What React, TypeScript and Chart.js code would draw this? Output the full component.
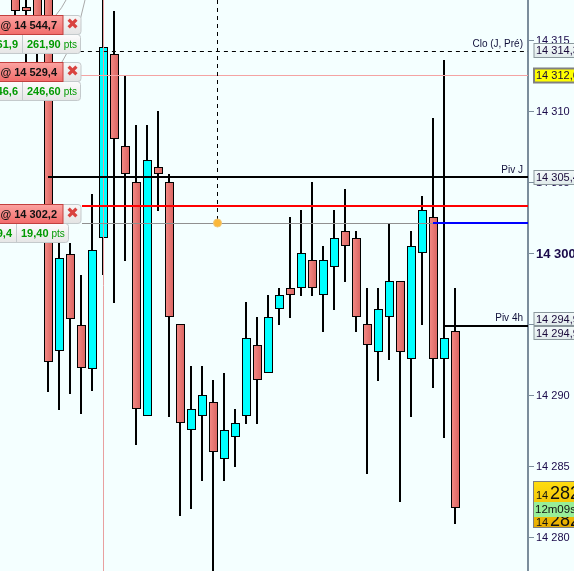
import React, { useEffect, useRef } from "react";
import { Chart, registerables } from "chart.js";

Chart.register(...registerables);

const W = 574;
const H = 571;

// Candle sequence, left to right
const highs = [14319, 14319, 14320, 14322, 14300.99, 14300.77, 14298.52, 14304.23, 14322, 14317.11, 14312.54, 14309.08, 14309.08, 14310.07, 14305.63, 14295.07, 14292.11, 14292.11, 14291.13, 14291.62, 14289.08, 14296.62, 14295.56, 14297.11, 14297.61, 14302.61, 14303.1, 14305.07, 14300.56, 14303.1, 14304.58, 14301.62, 14297.61, 14297.61, 14302.11, 14298.1, 14301.62, 14304.08, 14309.58, 14313.66, 14297.61];
const lows = [14316.1, 14313.1, 14313.1, 14290.28, 14289.01, 14290.14, 14288.73, 14290.35, 14298.52, 14296.55, 14299.51, 14286.55, 14288.59, 14303.03, 14288.52, 14281.55, 14282.04, 14284.01, 14277.4, 14284.01, 14285, 14288.03, 14288.03, 14291.62, 14295, 14295.49, 14297.04, 14297.04, 14294.51, 14296.06, 14298.03, 14294.51, 14284.51, 14291.06, 14292.54, 14282.54, 14288.52, 14295, 14290.56, 14287.04, 14280.99];
const bodyTops = [14318.5, 14317.4, 14319, 14321, 14299.72, 14300, 14295, 14300.28, 14314.58, 14314.08, 14307.61, 14305.07, 14306.62, 14306.13, 14305.07, 14295.07, 14289.08, 14290.07, 14289.58, 14287.61, 14288.1, 14294.08, 14293.59, 14295.56, 14297.11, 14297.61, 14300.07, 14299.58, 14299.58, 14301.13, 14301.62, 14301.13, 14295.07, 14296.13, 14298.1, 14298.1, 14300.56, 14303.1, 14302.61, 14294.08, 14294.58];
const bodyBottoms = [14317.1, 14317.1, 14314.6, 14292.39, 14293.17, 14295.42, 14291.97, 14291.9, 14301.13, 14308.1, 14305.63, 14289.08, 14288.59, 14305.63, 14295.56, 14288.1, 14287.61, 14288.59, 14286.06, 14285.56, 14287.11, 14288.59, 14291.13, 14291.62, 14296.13, 14297.11, 14297.61, 14297.61, 14297.11, 14299.08, 14300.56, 14295.56, 14293.59, 14293.1, 14295.56, 14293.1, 14292.61, 14300.07, 14292.61, 14292.61, 14282.11];
const rising = [0, 0, 0, 0, 1, 0, 0, 1, 1, 0, 0, 0, 1, 0, 0, 0, 1, 1, 0, 1, 1, 1, 0, 1, 1, 0, 1, 0, 1, 1, 0, 0, 0, 1, 1, 0, 1, 1, 0, 1, 0];

// Price levels
const pivJ = 14305.4;
const redLevel = 14303.38;
const entryLevel = 14302.2;
const cloLevel = 14314.3;
const pinkLevel = 14312.6;
const piv4h = 14294.95;

const yMin = 14277.676;
const yMax = 14317.887;
const xMin = -1.3636;
const xMax = 46.6364;

const tickValues = [14280, 14285, 14290, 14295, 14300, 14305, 14310, 14315];

const formatPrice = (v: number) => "14 " + String(Math.round(v) - 14000);

const wicks = highs.map((h, i) => ({ x: i, y: [lows[i], h] }));
const bodies = highs.map((_, i) => ({ x: i, y: [bodyBottoms[i], bodyTops[i]] }));

const hLine = (label: string, y: number, from: number, color: string, width: number, dash: number[] = [], order = 1) => ({
  type: "line" as const,
  label,
  data: [{ x: from, y }, { x: xMax, y }],
  borderColor: color,
  borderWidth: width,
  borderDash: dash,
  pointRadius: 0,
  order,
  borderCapStyle: "butt" as const,
});

function roundRect(c: CanvasRenderingContext2D, x: number, y: number, w: number, h: number, r: number) {
  c.beginPath();
  c.roundRect(x, y, w, h, r);
}

function vGrad(c: CanvasRenderingContext2D, y0: number, y1: number, a: string, b: string) {
  const g = c.createLinearGradient(0, y0, 0, y1);
  g.addColorStop(0, a);
  g.addColorStop(1, b);
  return g;
}

function tradeTag(c: CanvasRenderingContext2D, top: number, main: string, left: string, right: string, sep: number, end: number) {
  // lower row
  roundRect(c, -6, top + 19.5, end + 6.5, 19, 3);
  c.fillStyle = vGrad(c, top + 19, top + 38, "#fdfdfd", "#e6e6e6");
  c.fill();
  c.strokeStyle = "#c4cacc";
  c.lineWidth = 1;
  c.stroke();
  c.beginPath();
  c.moveTo(sep + 0.5, top + 20);
  c.lineTo(sep + 0.5, top + 38);
  c.stroke();

  // close cell
  roundRect(c, 60, top + 0.5, 21, 19, 3);
  c.fillStyle = vGrad(c, top, top + 19, "#f8f8f8", "#e4e4e4");
  c.fill();
  c.stroke();
  c.fillStyle = "#d9433f";
  c.font = "bold 15px 'DejaVu Sans'";
  c.textAlign = "center";
  c.textBaseline = "middle";
  c.fillText("\u2716", 72.5, top + 10);

  // main red cell
  c.fillStyle = vGrad(c, top, top + 19, "#fca5a3", "#f26d6b");
  c.fillRect(-2, top, 65, 19.5);
  c.strokeStyle = "#c2403f";
  c.strokeRect(-2, top + 0.5, 65, 19);
  c.fillStyle = "#111";
  c.font = "bold 11px 'Liberation Sans'";
  c.textAlign = "right";
  c.fillText(main, 57, top + 10.5);

  // lower texts
  c.fillStyle = "#029a02";
  c.font = "bold 11px 'Liberation Sans'";
  c.textAlign = "right";
  c.fillText(left, sep - 4, top + 29.5);
  c.textAlign = "left";
  c.fillText(right, sep + 5, top + 29.5);
  const w = c.measureText(right).width;
  c.font = "10px 'Liberation Sans'";
  c.fillText("pts", sep + 5 + w + 3, top + 30);
}

function priceBox(c: CanvasRenderingContext2D, top: number, h: number, text: string, a: string, b: string, border: string, bw: number) {
  c.fillStyle = vGrad(c, top, top + h, a, b);
  c.fillRect(534, top, 50, h);
  c.strokeStyle = border;
  c.lineWidth = bw;
  c.strokeRect(534, top + 0.5, 50, h - 1);
  c.fillStyle = "#1a0a3a";
  c.font = "11px 'Liberation Sans'";
  c.textAlign = "left";
  c.textBaseline = "middle";
  c.fillText(text, 536, top + h / 2 + 0.5);
}

const overlay = {
  id: "overlay",
  beforeDraw(chart: any) {
    const c = chart.ctx;
    c.save();
    c.fillStyle = "#f4ffff";
    c.fillRect(0, 0, W, H);
    c.restore();
  },
  afterDatasetsUpdate(chart: any) {
    chart.data.datasets.forEach((ds: any, di: number) => {
      const meta = chart.getDatasetMeta(di);
      meta.data.forEach((el: any) => {
        if (ds.type === "line") {
          const odd = ds.borderWidth % 2 === 1;
          el.y = Math.round(el.y) + (odd && !ds.snapX ? 0.5 : 0);
          if (ds.snapX) el.x = Math.round(el.x) + 0.5;
        } else if (ds.label === "wicks") {
          el.x = Math.round(el.x);
          el.y = Math.round(el.y);
          el.base = Math.round(el.base);
        } else if (ds.label === "bodies") {
          el.x = Math.round(el.x) + 0.5;
          el.y = Math.round(el.y);
          el.base = Math.round(el.base);
        }
      });
    });
  },
  afterDraw(chart: any) {
    const c: CanvasRenderingContext2D = chart.ctx;
    const y = chart.scales.y;
    c.save();

    // guide arcs behind the tags
    c.strokeStyle = "#a9a9a9";
    c.lineWidth = 1;
    c.beginPath();
    c.moveTo(66, 0);
    c.quadraticCurveTo(62, 8, 56, 15);
    c.stroke();
    c.beginPath();
    c.moveTo(85, 0);
    c.quadraticCurveTo(77, 38, 62, 62);
    c.stroke();

    tradeTag(c, 15, "s @ 14 544,7", "61,9", "261,90", 22, 80);
    tradeTag(c, 62, "s @ 14 529,4", "46,6", "246,60", 22, 80);
    tradeTag(c, 204, ": @ 14 302,2", "9,4", "19,40", 16, 68);

    // level captions
    c.fillStyle = "#10103a";
    c.font = "10px 'Liberation Sans'";
    c.textAlign = "right";
    c.textBaseline = "middle";
    c.fillText("Clo (J, Pr\u00e9)", 523, y.getPixelForValue(cloLevel) - 7);
    c.fillText("Piv J", 523, y.getPixelForValue(pivJ) - 7);
    c.fillText("Piv 4h", 523, y.getPixelForValue(piv4h) - 7);

    // price boxes on the axis
    priceBox(c, 43, 15, "14 314,3", "#f4fbfb", "#dfeaea", "#8a979c", 1);
    priceBox(c, 68, 15, "14 312,6", "#ffff00", "#ffff00", "#808080", 2);
    priceBox(c, 170, 15, "14 305,4", "#f4fbfb", "#dfeaea", "#8a979c", 1);
    priceBox(c, 312, 14, "14 294,9", "#f4fbfb", "#dfeaea", "#8a979c", 1);
    priceBox(c, 326, 14, "14 294,9", "#f4fbfb", "#dfeaea", "#8a979c", 1);

    // live price box
    c.fillStyle = vGrad(c, 482, 528, "#ffdc10", "#e8ac00");
    c.fillRect(534, 482, 50, 46);
    c.strokeStyle = "#808080";
    c.lineWidth = 1;
    c.strokeRect(533.5, 481.5, 50, 46);
    c.textAlign = "left";
    c.textBaseline = "alphabetic";
    c.fillStyle = "#111";
    c.font = "11px 'Liberation Sans'";
    c.fillText("14", 536, 499);
    c.font = "18px 'Liberation Sans'";
    c.fillText("282", 550, 499);
    c.font = "11px 'Liberation Sans'";
    c.fillText("14", 536, 526);
    c.font = "18px 'Liberation Sans'";
    c.fillText("282", 550, 526);
    c.fillStyle = "#98ee98";
    c.fillRect(534, 502, 40, 15);
    c.fillStyle = "#111";
    c.font = "11.5px 'Liberation Sans'";
    c.textBaseline = "middle";
    c.fillText("12m09s", 535, 510);

    c.restore();
  },
};

export default function App() {
  const ref = useRef<HTMLCanvasElement>(null);

  useEffect(() => {
    document.body.style.margin = "0";
    const canvas = ref.current!;
    const chart = new Chart(canvas, {
      type: "bar",
      data: {
        datasets: [
          {
            label: "wicks",
            data: wicks as any,
            backgroundColor: "#000000",
            barThickness: 2,
            grouped: false,
            order: 4,
            inflateAmount: 0,
          },
          {
            label: "bodies",
            data: bodies as any,
            grouped: false,
            order: 3,
            barThickness: 9,
            borderWidth: 1,
            borderColor: "#000000",
            borderSkipped: false,
            inflateAmount: 0,
            backgroundColor: (ctx: any) => {
              const i = ctx.dataIndex;
              if (i === undefined) return "#00ffff";
              if (rising[i]) return "#00ffff";
              const px = ctx.chart.scales.x.getPixelForValue(i);
              if (!Number.isFinite(px)) return "#e8706c";
              const g = ctx.chart.ctx.createLinearGradient(px - 4, 0, px + 5, 0);
              g.addColorStop(0, "#f58c87");
              g.addColorStop(1, "#d8625f");
              return g;
            },
          },
          hLine("Piv J", pivJ, 3, "#000000", 2),
          hLine("Pivot rouge", redLevel, 6.09, "#ff0000", 2),
          hLine("Entry", entryLevel, 6.09, "#909090", 1, [], 2),
          hLine("Clo (J, Pré)", cloLevel, 5.9, "#000000", 1, [4, 4]),
          hLine("Last", pinkLevel, xMin, "#f4a3a3", 1),
          hLine("Piv bleu", entryLevel, 38, "#0000ff", 2),
          hLine("Piv 4h", piv4h, 39, "#000000", 2),
          {
            type: "line",
            label: "Crosshair",
            data: [{ x: 8, y: yMin }, { x: 8, y: yMax }],
            borderColor: "#e8a0a0",
            borderWidth: 1,
            pointRadius: 0,
            order: 2,
            snapX: true,
          } as any,
          {
            type: "line",
            label: "Order handle",
            data: [{ x: 18.36, y: yMax }, { x: 18.36, y: entryLevel }],
            borderColor: "#000000",
            borderWidth: 1,
            borderDash: [4, 4],
            pointRadius: [0, 4],
            pointBackgroundColor: "#fbb83a",
            pointBorderColor: "#f0c878",
            pointBorderWidth: 1,
            order: 0,
            snapX: true,
          } as any,
        ],
      },
      options: {
        responsive: false,
        animation: false,
        maintainAspectRatio: false,
        layout: { padding: 0, autoPadding: false },
        events: [],
        plugins: { legend: { display: false }, tooltip: { enabled: false }, title: { display: false } },
        scales: {
          x: {
            type: "linear",
            min: xMin,
            max: xMax,
            display: false,
            offset: false,
          },
          y: {
            type: "linear",
            position: "right",
            min: yMin,
            max: yMax,
            afterBuildTicks: (s: any) => {
              s.ticks = tickValues.map((value) => ({ value }));
            },
            afterFit: (s: any) => {
              s.width = W - 528;
              s.paddingTop = 0;
              s.paddingBottom = 0;
            },
            border: { display: true, color: "#7b8d9c", width: 2 },
            grid: { drawOnChartArea: false, drawTicks: true, tickLength: 6, tickColor: "#7b8d9c", tickWidth: 1 },
            ticks: {
              autoSkip: false,
              padding: 2,
              maxRotation: 0,
              color: "#1a0a4a",
              callback: (v: any) => formatPrice(Number(v)),
              font: (ctx: any) =>
                ctx.tick && ctx.tick.value === 14300
                  ? { family: "'Liberation Sans'", size: 13, weight: "bold" }
                  : { family: "'Liberation Sans'", size: 11 },
            },
          },
        },
      },
      plugins: [overlay],
    } as any);
    return () => chart.destroy();
  }, []);

  return (
    <div style={{ position: "absolute", left: 0, top: 0, width: W, height: H, overflow: "hidden" }}>
      <canvas ref={ref} width={W} height={H} style={{ display: "block" }} />
    </div>
  );
}
